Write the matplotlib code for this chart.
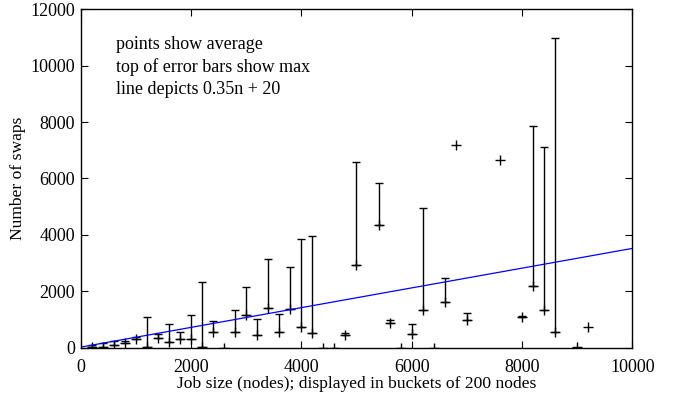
import numpy as np
import matplotlib
matplotlib.use("Agg")
import matplotlib.pyplot as plt

# ─────────────────────────────────────────────────────────────────────────────
# DATA (buckets of 200 nodes)
# ─────────────────────────────────────────────────────────────────────────────

job_size = [200, 400, 600, 800, 1000, 1200, 1400, 1600, 1800, 2000, 2200,
            2400, 2600, 2800, 3000, 3200, 3400, 3600, 3800, 4000, 4200,
            4400, 4600, 4800, 5000, 5400, 5600, 5800, 6000, 6200, 6400,
            6600, 6800, 7000, 7600, 8000, 8200, 8400, 8600, 9000, 9200]

avg_swaps = [35, 35, 96, 177, 308, 15, 333, 213, 308, 308, 35,
             545, 0, 567, 1160, 450, 1397, 567, 1362, 723, 532,
             0, 0, 450, 2933, 4351, 887, 0, 486, 1337, 0,
             1631, 7188, 982, 6656, 1078, 2188, 1337, 546, 20, 745]

max_swaps = [96, 177, 250, 250, 390, 1100, 486, 840, 567, 1160, 2340,
             946, 0, 1337, 2163, 1018, 3145, 1184, 2851, 3844, 3961,
             0, 0, 510, 6574, 5851, 982, 0, 840, 4943, 0,
             2482, 7188, 1241, 6656, 1135, 7858, 7106, 10996, 20, 745]

LINE_SLOPE = 0.35
LINE_OFFSET = 20

NOTES = ["points show average",
         "top of error bars show max",
         "line depicts 0.35n + 20"]

# ─────────────────────────────────────────────────────────────────────────────
# PLOT
# ─────────────────────────────────────────────────────────────────────────────

plt.rcParams["font.family"] = ["Liberation Serif", "DejaVu Serif"]
plt.rcParams["font.size"] = 13

x = np.array(job_size)
y = np.array(avg_swaps)
upper = np.array(max_swaps) - y
has_bar = upper > 0  # gnuplot shows a plain + where max == avg

fig = plt.figure(figsize=(6.74, 3.97), dpi=100)
ax = fig.add_axes([0.1197, 0.1242, 0.8184, 0.8524])

ax.errorbar(x[has_bar], y[has_bar],
            yerr=[np.zeros(has_bar.sum()), upper[has_bar]], fmt="none",
            ecolor="black", elinewidth=1.0, capsize=3.2, capthick=1.0)
ax.plot(x, y, linestyle="none", marker="+", markersize=7,
        markeredgewidth=1.0, color="black")

n = np.array([0, 10000])
ax.plot(n, LINE_SLOPE * n + LINE_OFFSET, color="blue", linewidth=0.9)

ax.set_xlim(0, 10000)
ax.set_ylim(0, 12000)
ax.set_xticks(range(0, 10001, 2000))
ax.set_yticks(range(0, 12001, 2000))
ax.tick_params(direction="in", top=True, right=True, length=5, width=0.8,
               labelsize=13)
ax.tick_params(axis="x", pad=8)
ax.tick_params(axis="y", pad=4)
for s in ax.spines.values():
    s.set_linewidth(1.0)

ax.set_xlabel("Job size (nodes); displayed in buckets of 200 nodes",
              fontsize=12.6, labelpad=0)
ax.set_ylabel("Number of swaps", fontsize=12.6, labelpad=3)

for i, line in enumerate(NOTES):
    ax.text(0.064, 0.8945 - i * 0.0665, line, transform=ax.transAxes,
            fontsize=13, va="center", ha="left")

fig.savefig("out.png", dpi=100)
